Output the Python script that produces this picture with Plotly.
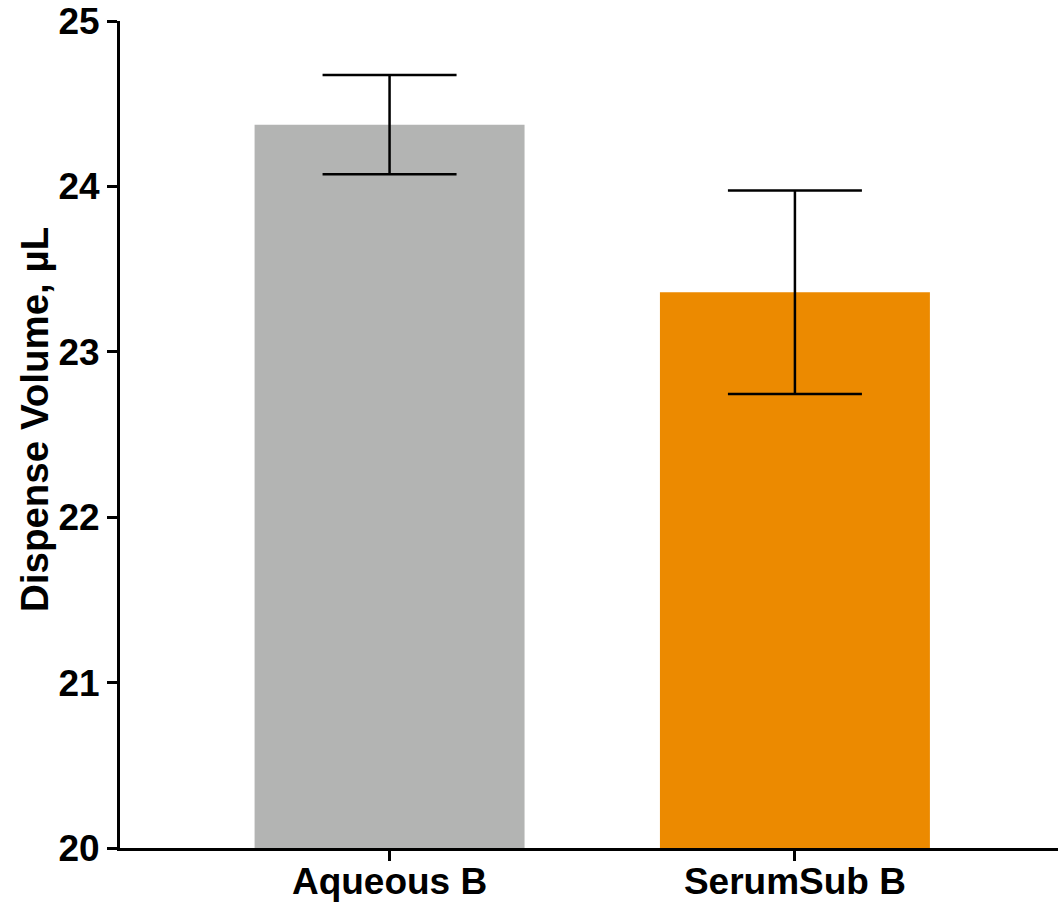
import plotly.graph_objects as go

categories = ["Aqueous B", "SerumSub B"]
means = [24.373, 23.36]
errors = [0.30, 0.615]
bar_colors = ["#b3b4b3", "#ec8a00"]
y_ticks = [20, 21, 22, 23, 24, 25]

FONT = "Liberation Sans, Arial, sans-serif"

fig = go.Figure()
fig.add_trace(go.Bar(
    x=categories,
    y=means,
    width=0.666,
    marker=dict(color=bar_colors, line=dict(width=0)),
    error_y=dict(type="data", array=errors, visible=True,
                 color="black", thickness=2.5, width=67),
    showlegend=False,
))

fig.update_layout(
    width=1058, height=904,
    margin=dict(l=120, r=0, t=21, b=56),
    plot_bgcolor="white", paper_bgcolor="white",
    font=dict(family=FONT, size=37, color="black"),
    xaxis=dict(
        type="category",
        range=[-0.665, 1.649],
        automargin=False,
        showline=True, linecolor="black", linewidth=3,
        ticks="outside", ticklen=10, tickwidth=2.5, tickcolor="black",
        ticklabelstandoff=-11,
        tickfont=dict(family=FONT, size=37, color="black", weight="bold"),
        showgrid=False, zeroline=False,
    ),
    yaxis=dict(
        range=[20, 25],
        tickvals=y_ticks,
        automargin=False,
        showline=True, linecolor="black", linewidth=3,
        ticks="outside", ticklen=10, tickwidth=2.5, tickcolor="black",
        tickfont=dict(family=FONT, size=37, color="black", weight="bold"),
        showgrid=False, zeroline=False,
    ),
    annotations=[dict(
        text="<b>Dispense Volume, µL</b>",
        textangle=-90,
        xref="paper", yref="paper",
        x=(35 - 120) / 938, y=(848 - 420) / 827,
        xanchor="center", yanchor="middle",
        showarrow=False,
        font=dict(family=FONT, size=38.5, color="black"),
    )],
)

fig.write_html(
    "out.html",
    config={"displayModeBar": False},
    post_script="document.body.style.margin='0';document.body.style.padding='0';",
)
